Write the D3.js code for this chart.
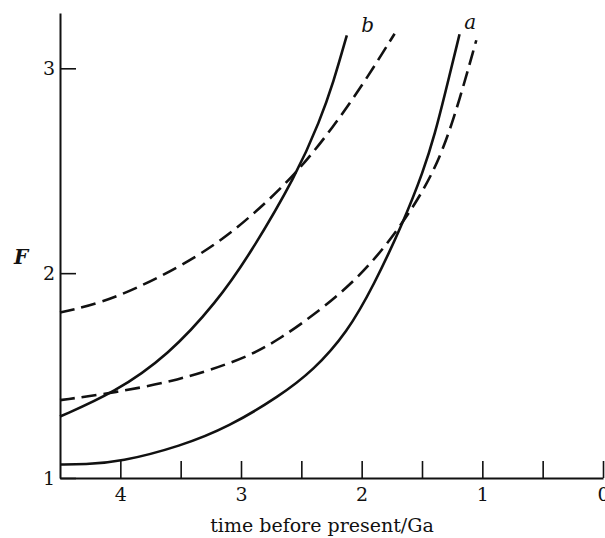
<!DOCTYPE html>
<html>
<head>
<meta charset="utf-8">
<script src="https://cdn.jsdelivr.net/npm/d3@7"></script>
<style>
  body { margin: 0; background: #fff; }
  svg text { font-family: "DejaVu Serif", "Liberation Serif", serif; fill: #111; }
  .axis path, .axis line { stroke: #111; }
</style>
</head>
<body>
<div id="chart"></div>
<script>
// time before present (Ga) vs F
var solidA = [[4.5, 1.066], [4.3, 1.066], [4.0, 1.078], [3.5, 1.155], [3.1, 1.25], [2.68, 1.40],
              [2.4, 1.525], [2.12, 1.71], [1.9, 1.94], [1.666, 2.234], [1.486, 2.50],
              [1.389, 2.69], [1.32, 2.85], [1.189, 3.166]];
var dashedA = [[4.5, 1.38], [4.05, 1.416], [3.51, 1.478], [3.09, 1.56], [2.87, 1.615],
               [2.68, 1.68], [2.43, 1.78], [2.01, 1.98], [1.666, 2.234], [1.403, 2.486],
               [1.236, 2.746], [1.05, 3.137]];
var solidB = [[4.5, 1.30], [4.05, 1.416], [3.6, 1.60], [3.2, 1.86], [2.93, 2.088],
              [2.54, 2.48], [2.345, 2.746], [2.235, 2.93], [2.123, 3.161]];
var dashedB = [[4.5, 1.808], [4.05, 1.868], [3.34, 2.08], [2.93, 2.267], [2.54, 2.486],
               [2.235, 2.714], [1.985, 2.925], [1.727, 3.169]];

var xTicks = [4, 3.5, 3, 2.5, 2, 1.5, 1, 0.5, 0];
var yTicks = [1, 2, 3];
var curveLabels = [["b", 1.95, 3.175], ["a", 1.10, 3.19]];

var width = 605, height = 538;

var svg = d3.select("#chart").append("svg")
    .attr("width", width)
    .attr("height", height);

// scales
var x = d3.scaleLinear().domain([4.5, 0]).range([60, 603]);
var y = d3.scaleLinear().domain([1, 3.27]).range([478, 13]);

// axes
svg.append("g")
    .attr("class", "axis")
    .attr("transform", "translate(0," + y(1) + ")")
    .call(d3.axisBottom(x)
        .tickValues(xTicks)
        .tickSizeInner(-17)
        .tickSizeOuter(0)
        .tickPadding(10)
        .tickFormat(d => Number.isInteger(d) ? d : ""))
    .call(g => g.select(".domain").attr("stroke-width", 2))
    .call(g => g.selectAll(".tick line").attr("stroke-width", 1.6))
    .call(g => g.selectAll("text").attr("font-size", 19).attr("fill", "#111"));

svg.append("g")
    .attr("class", "axis")
    .attr("transform", "translate(" + x(4.5) + ",0)")
    .call(d3.axisLeft(y)
        .tickValues(yTicks)
        .tickSizeInner(-16)
        .tickSizeOuter(0)
        .tickPadding(5)
        .tickFormat(d3.format("d")))
    .call(g => g.select(".domain").attr("stroke-width", 2))
    .call(g => g.selectAll(".tick line").attr("stroke-width", 1.6))
    .call(g => g.selectAll("text").attr("font-size", 19).attr("fill", "#111"));

// axis titles
svg.append("text")
    .attr("x", 322)
    .attr("y", 532)
    .attr("text-anchor", "middle")
    .attr("font-size", 19)
    .text("time before present/Ga");

svg.append("text")
    .attr("x", 21)
    .attr("y", 264)
    .attr("text-anchor", "middle")
    .attr("font-size", 20)
    .attr("font-style", "italic")
    .attr("font-weight", "bold")
    .text("F");

// curves
var line = d3.line()
    .x(d => x(d[0]))
    .y(d => y(d[1]))
    .curve(d3.curveBasis);

[[solidA, null], [dashedA, "15,7"], [solidB, null], [dashedB, "15,7"]].forEach(function (c) {
    svg.append("path")
        .datum(c[0])
        .attr("d", line)
        .attr("fill", "none")
        .attr("stroke", "#111")
        .attr("stroke-width", 2.6)
        .attr("stroke-dasharray", c[1]);
});

// curve labels
svg.selectAll(".clabel")
    .data(curveLabels)
    .enter().append("text")
    .attr("class", "clabel")
    .attr("x", d => x(d[1]))
    .attr("y", d => y(d[2]))
    .attr("text-anchor", "middle")
    .attr("font-size", 20)
    .attr("font-style", "italic")
    .text(d => d[0]);
</script>
</body>
</html>
